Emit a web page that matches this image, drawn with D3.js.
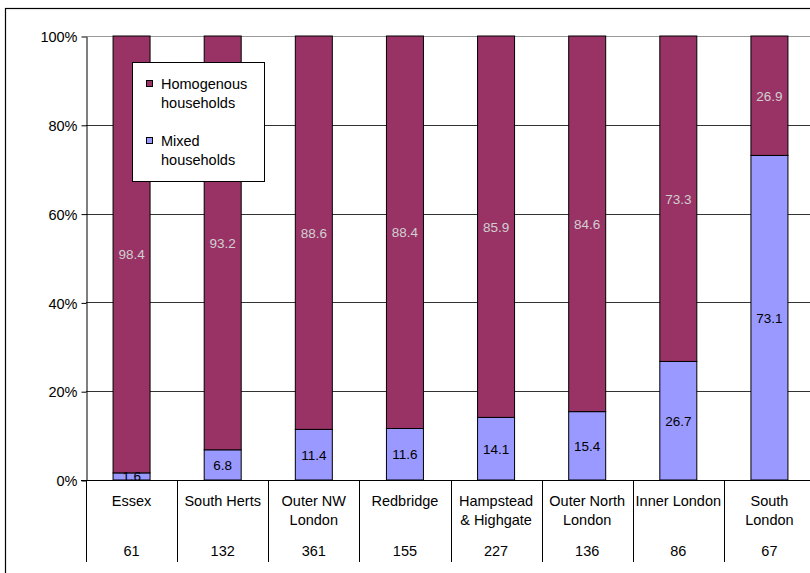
<!DOCTYPE html>
<html><head><meta charset="utf-8">
<script src="https://cdn.jsdelivr.net/npm/d3@7"></script>
<style>body{margin:0;background:#fff}svg{display:block;font-family:"Liberation Sans",Arial,sans-serif}</style>
</head><body><svg id="c" width="810" height="573"></svg>
<script>
const categories = [["Essex"],["South Herts"],["Outer NW","London"],["Redbridge"],["Hampstead","& Highgate"],["Outer North","London"],["Inner London"],["South","London"]];
const counts = [61,132,361,155,227,136,86,67];
const mixed = [1.6,6.8,11.4,11.6,14.1,15.4,26.7,73.1];
const homogenous = [98.4,93.2,88.6,88.4,85.9,84.6,73.3,26.9];
const yTicks = [0,20,40,60,80,100];
const seriesNames = [["Homogenous","households"],["Mixed","households"]];
const colors = {homog:"#993366", mixed:"#9999FF"};

const svg = d3.select("#c");
const L=86, R=815, T=36, B=480;
const x = d3.scaleBand().domain(d3.range(categories.length)).range([L,R]).padding(0);
const y = d3.scaleLinear().domain([0,100]).range([B,T]);
const barW = 37;

// outer frame
svg.append("rect").attr("x",5.5).attr("y",8.5).attr("width",830).attr("height",600).attr("fill","none").attr("stroke","#000").attr("stroke-width",1.2);

// gridlines
svg.append("g").selectAll("line").data(yTicks.filter(d=>d>0)).join("line")
  .attr("x1",L).attr("x2",R).attr("y1",d=>Math.round(y(d))+0.5).attr("y2",d=>Math.round(y(d))+0.5)
  .attr("stroke",d=>d===100?"#999":"#333").attr("stroke-width",1);

// y axis
const yAxis = d3.axisLeft(y).tickValues(yTicks).tickFormat(d=>d+"%").tickSize(5).tickSizeOuter(0);
const ga = svg.append("g").attr("transform",`translate(${L+0.5},0.5)`).call(yAxis);
ga.select(".domain").attr("stroke","#000");
ga.selectAll(".tick line").attr("stroke","#000");
ga.selectAll(".tick text").attr("font-size","14.5px").attr("fill","#000").attr("x",-9).attr("dy","0.36em").attr("font-family","Liberation Sans, Arial, sans-serif");

// bars
const g = svg.append("g");
categories.forEach((c,i)=>{
  const cx = x(i)+x.bandwidth()/2;
  const x0 = cx-barW/2;
  const m = mixed[i], h = homogenous[i];
  g.append("rect").attr("x",x0).attr("y",y(m)).attr("width",barW).attr("height",y(0)-y(m))
    .attr("fill",colors.mixed).attr("stroke","#000").attr("stroke-width",1);
  g.append("rect").attr("x",x0).attr("y",y(m+h)).attr("width",barW).attr("height",y(m)-y(m+h))
    .attr("fill",colors.homog).attr("stroke","#000").attr("stroke-width",1);
});
// data labels
categories.forEach((c,i)=>{
  const cx = x(i)+x.bandwidth()/2;
  const m = mixed[i], h = homogenous[i];
  g.append("text").attr("x",cx).attr("y",y(m/2)).attr("dy","0.36em").attr("text-anchor","middle")
    .attr("font-size","13.5px").attr("fill","#000").text(m.toFixed(1));
  g.append("text").attr("x",cx).attr("y",y(m+h/2)).attr("dy","0.36em").attr("text-anchor","middle")
    .attr("font-size","13.5px").attr("fill","#d0d0d0").text(h.toFixed(1));
});

// x axis line
svg.append("line").attr("x1",L-5).attr("x2",R).attr("y1",B+0.5).attr("y2",B+0.5).attr("stroke","#000");
// category separators
svg.append("g").selectAll("line").data(d3.range(categories.length+1)).join("line")
  .attr("x1",d=>Math.round(L+d*x.step())+0.5).attr("x2",d=>Math.round(L+d*x.step())+0.5)
  .attr("y1",B).attr("y2",562).attr("stroke","#000");
// category labels
categories.forEach((c,i)=>{
  const cx = x(i)+x.bandwidth()/2;
  c.forEach((line,j)=>{
    svg.append("text").attr("x",cx).attr("y",506+j*19).attr("text-anchor","middle")
      .attr("font-size","14.5px").text(line);
  });
  svg.append("text").attr("x",cx).attr("y",556).attr("text-anchor","middle")
    .attr("font-size","14.5px").text(counts[i]);
});

// legend
const lg = svg.append("g");
lg.append("rect").attr("x",132.5).attr("y",62.5).attr("width",132).attr("height",119).attr("fill","#fff").attr("stroke","#000");
const legItems = [{name:seriesNames[0],color:colors.homog,y:80},{name:seriesNames[1],color:colors.mixed,y:137}];
legItems.forEach(it=>{
  lg.append("rect").attr("x",146.5).attr("y",it.y+0.5).attr("width",6).attr("height",6).attr("fill",it.color).attr("stroke","#000");
  it.name.forEach((t,j)=>{
    lg.append("text").attr("x",161).attr("y",it.y+9+j*19).attr("font-size","14.5px").text(t);
  });
});
</script></body></html>
